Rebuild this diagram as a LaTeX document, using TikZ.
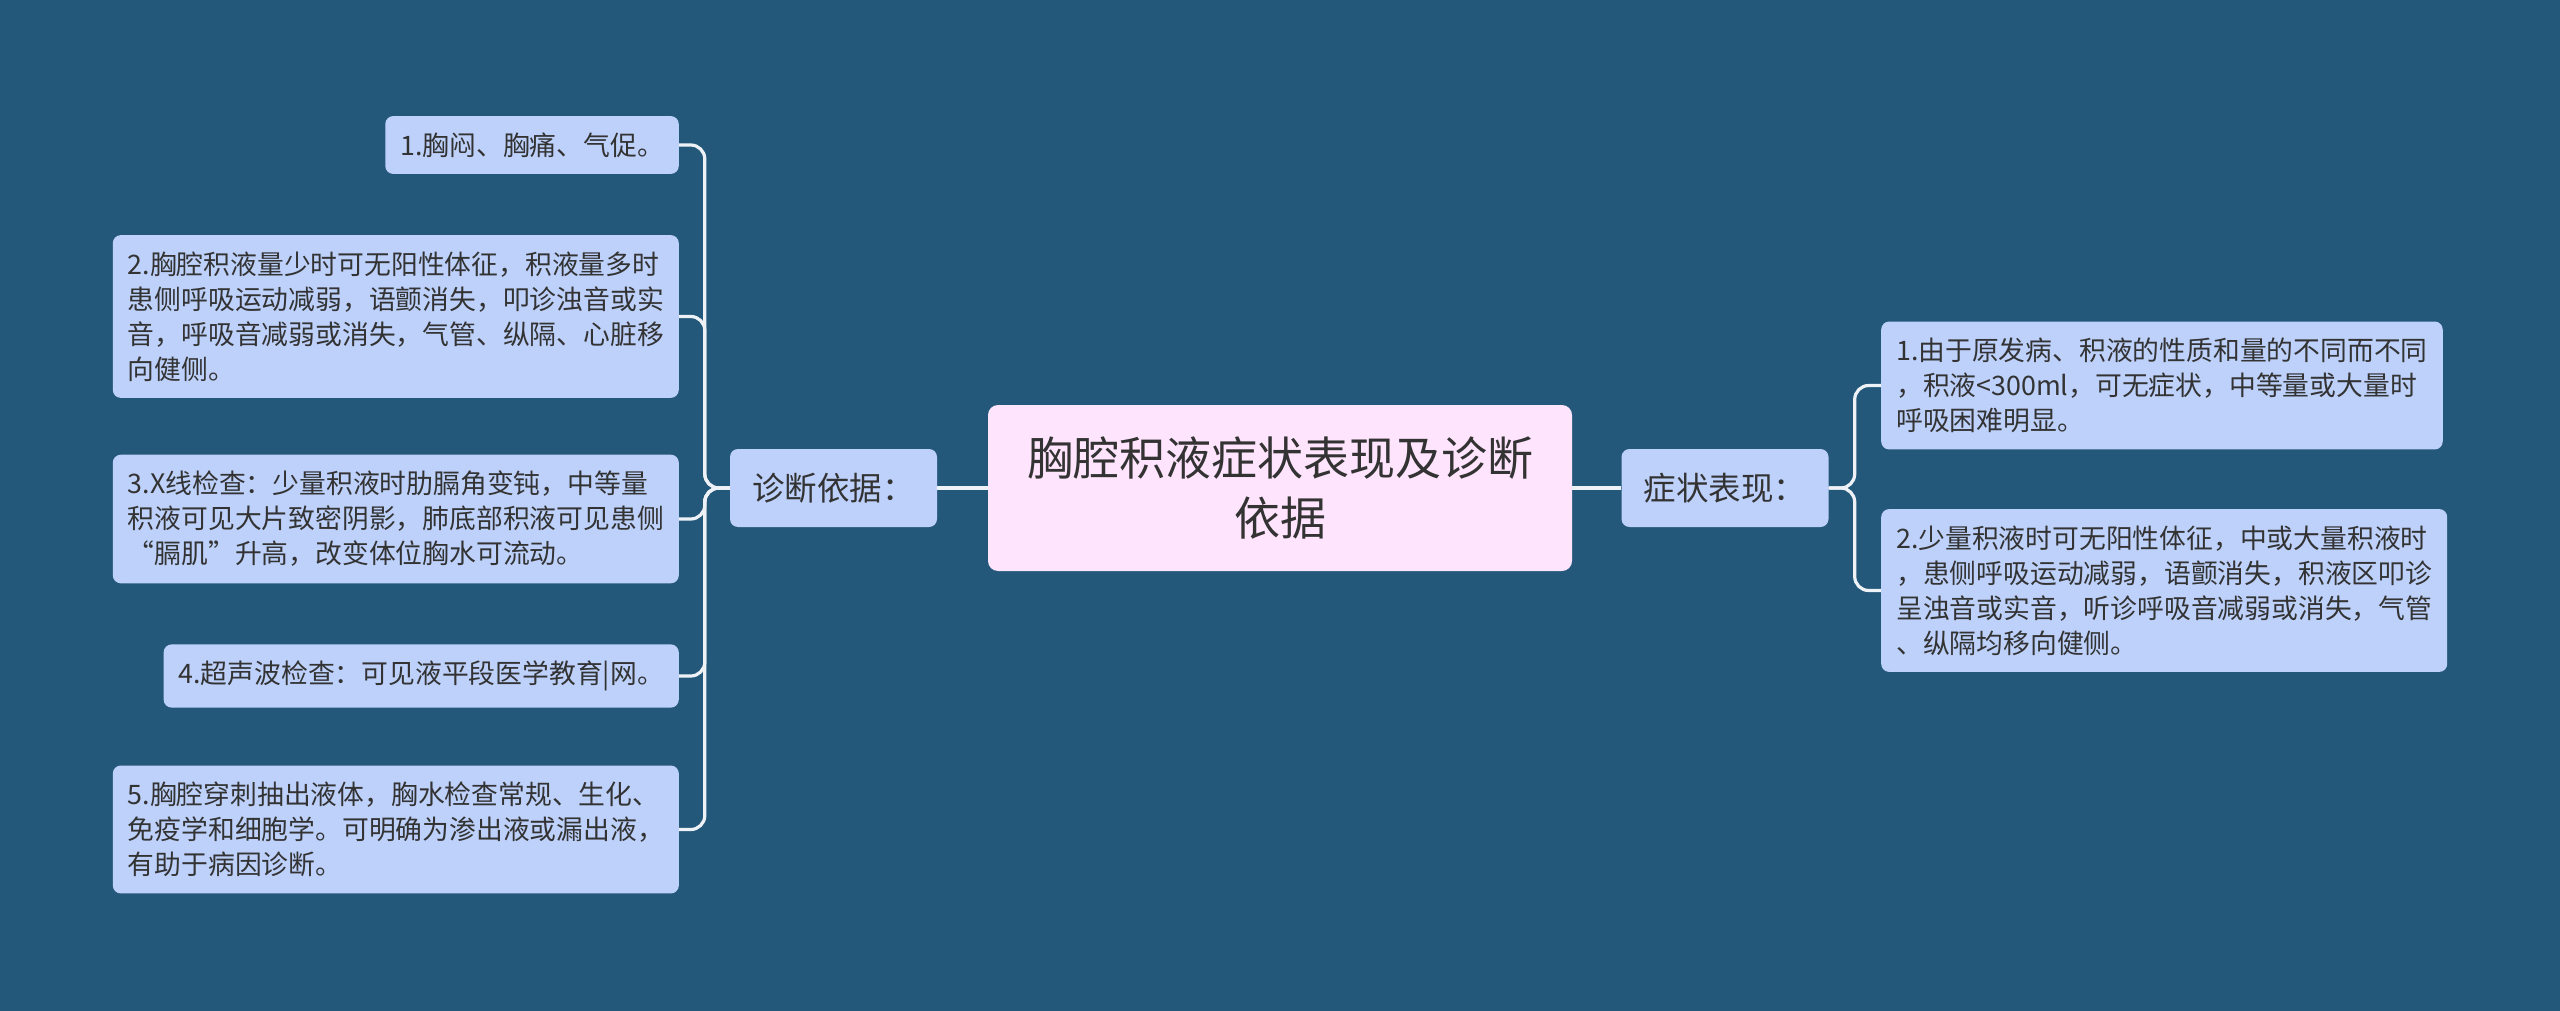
\documentclass[tikz,border=0pt]{standalone}
\usepackage{fontspec}
\newfontfamily\cjk{Noto Sans CJK SC}

\definecolor{fond}{HTML}{24587A}
\definecolor{feuille}{HTML}{BDD1FB}
\definecolor{racine}{HTML}{FEE4FC}
\definecolor{trait}{HTML}{EEF2F6}
\definecolor{texte}{HTML}{333333}

\tikzset{
  leaf/.style={fill=feuille, rounded corners=8pt, text=texte, align=left,
    inner xsep=15pt, inner ysep=16.5pt, font=\cjk\fontsize{26.8}{35}\selectfont},
  branch/.style={fill=feuille, rounded corners=8pt, text=texte,
    minimum width=207pt, minimum height=78pt, font=\cjk\fontsize{32.5}{38}\selectfont},
  root/.style={fill=racine, rounded corners=10pt, text=texte, align=center,
    minimum width=584pt, minimum height=166pt, font=\cjk\fontsize{46}{60}\selectfont},
  link/.style={draw=trait, line width=3.2pt, rounded corners=14pt}
}

\begin{document}
\begin{tikzpicture}[x=1pt,y=-1pt]

% Fond
  \fill[fond] (0,0) rectangle (2560,1011);

% Centre et branches
  \node[root] (titre) at (1280,488) {胸腔积液症状表现及诊断\\依据};
  \node[branch] (diag) at (833.5,488) {诊断依据：};
  \node[branch] (sympt) at (1725,488) {症状表现：};

% Feuilles a gauche (diagnostic)
  \node[leaf, anchor=east] (d1) at (679,145) {1.胸闷、胸痛、气促。};
  \node[leaf, anchor=east] (d2) at (679,316.5) {2.胸腔积液量少时可无阳性体征，积液量多时\\患侧呼吸运动减弱，语颤消失，叩诊浊音或实\\音，呼吸音减弱或消失，气管、纵隔、心脏移\\向健侧。};
  \node[leaf, anchor=east] (d3) at (679,519) {3.X线检查：少量积液时肋膈角变钝，中等量\\积液可见大片致密阴影，肺底部积液可见患侧\\“膈肌”升高，改变体位胸水可流动。};
  \node[leaf, anchor=east] (d4) at (679,676) {4.超声波检查：可见液平段医学教育|网。};
  \node[leaf, anchor=east] (d5) at (679,829.5) {5.胸腔穿刺抽出液体，胸水检查常规、生化、\\免疫学和细胞学。可明确为渗出液或漏出液，\\有助于病因诊断。};

% Feuilles a droite (symptomes)
  \node[leaf, anchor=west] (s1) at (1881,385.5) {1.由于原发病、积液的性质和量的不同而不同\\，积液<300ml，可无症状，中等量或大量时\\呼吸困难明显。};
  \node[leaf, anchor=west] (s2) at (1881,590.5) {2.少量积液时可无阳性体征，中或大量积液时\\，患侧呼吸运动减弱，语颤消失，积液区叩诊\\呈浊音或实音，听诊呼吸音减弱或消失，气管\\、纵隔均移向健侧。};

% Liens
  \draw[link] (titre) -- (diag);
  \draw[link] (titre) -- (sympt);
  \foreach \f in {d1,d2,d3,d4,d5}
    \draw[link] (diag.west) -- ++(-25,0) |- (\f.east);
  \foreach \f in {s1,s2}
    \draw[link] (sympt.east) -- ++(26,0) |- (\f.west);

\end{tikzpicture}
\end{document}
